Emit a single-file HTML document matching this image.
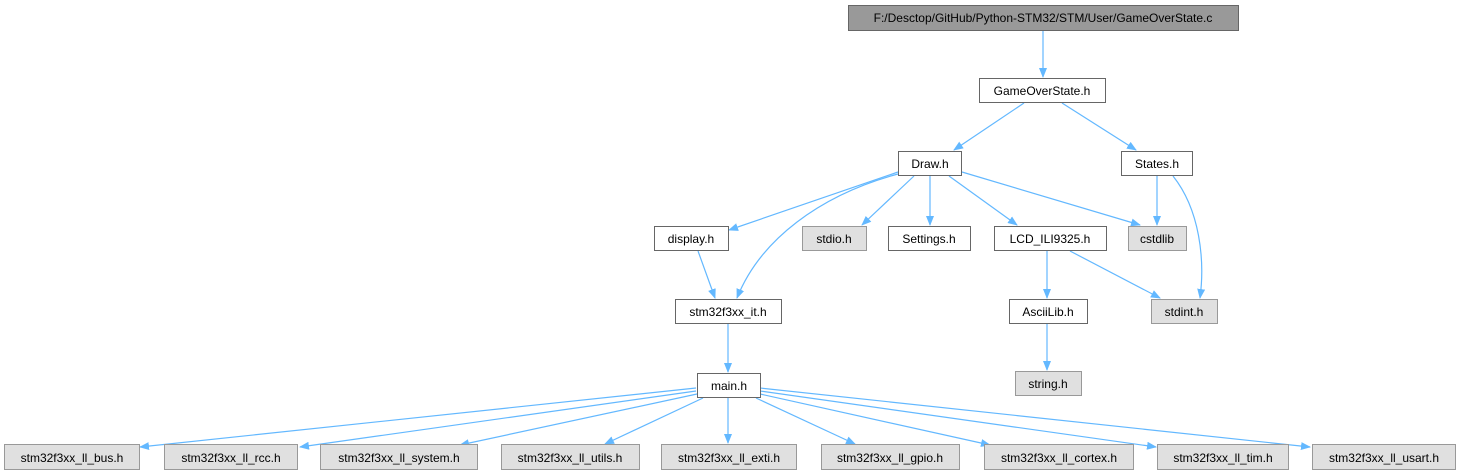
<!DOCTYPE html>
<html><head><meta charset="utf-8"><style>
html,body{margin:0;padding:0;background:#fff;}
svg{display:block;}
text{font-family:"Liberation Sans",Arial,sans-serif;font-size:12px;fill:#000;text-anchor:middle;}
.w{fill:#fff;stroke:#666;stroke-width:1;}
.g{fill:#e0e0e0;stroke:#999;stroke-width:1;}
.e{fill:none;stroke:#63b8ff;stroke-width:1.2;}
</style></head><body>
<svg width="1459" height="476" viewBox="0 0 1459 476">
<defs><marker id="a" markerWidth="10" markerHeight="8" refX="9" refY="4" orient="auto" markerUnits="userSpaceOnUse"><path d="M0,0 L10,4 L0,8 z" fill="#63b8ff"/></marker></defs>
<g marker-end="url(#a)">
<path class="e" d="M1043,31 L1043,77"/>
<path class="e" d="M1024,103 L954,150"/>
<path class="e" d="M1062,103 L1136,150"/>
<path class="e" d="M898,172 L729,230"/>
<path class="e" d="M898,174 C820,195 760,240 737,298"/>
<path class="e" d="M914,176 L862,225"/>
<path class="e" d="M930,176 L930,225"/>
<path class="e" d="M949,176 L1017,225"/>
<path class="e" d="M962,172 L1140,225"/>
<path class="e" d="M1157,176 L1157,225"/>
<path class="e" d="M1173,176 C1200,210 1205,260 1200,298"/>
<path class="e" d="M1047,251 L1047,298"/>
<path class="e" d="M1070,251 L1160,298"/>
<path class="e" d="M698,251 L715,298"/>
<path class="e" d="M728,324 L728,372"/>
<path class="e" d="M1047,324 L1047,370"/>
<path class="e" d="M696,388 L140,447"/>
<path class="e" d="M696,391 L300,447"/>
<path class="e" d="M697,394 L460,445"/>
<path class="e" d="M703,398 L605,444"/>
<path class="e" d="M728,398 L728,443"/>
<path class="e" d="M756,398 L855,444"/>
<path class="e" d="M760,394 L990,445"/>
<path class="e" d="M760,391 L1156,447"/>
<path class="e" d="M760,388 L1310,447"/>
</g>
<rect x="848.5" y="5.5" width="390" height="25" fill="#999" stroke="#666"/><text x="1043" y="22">F:/Desctop/GitHub/Python-STM32/STM/User/GameOverState.c</text>
<rect class="w" x="979.5" y="78.5" width="126" height="24"/><text x="1042" y="95">GameOverState.h</text>
<rect class="w" x="898.5" y="151.5" width="63" height="24"/><text x="930" y="168">Draw.h</text>
<rect class="w" x="1121.5" y="151.5" width="71" height="24"/><text x="1157" y="168">States.h</text>
<rect class="w" x="654.5" y="226.5" width="74" height="24"/><text x="691" y="243">display.h</text>
<rect class="g" x="802.5" y="226.5" width="64" height="24"/><text x="834" y="243">stdio.h</text>
<rect class="w" x="888.5" y="226.5" width="82" height="24"/><text x="929" y="243">Settings.h</text>
<rect class="w" x="994.5" y="226.5" width="112" height="24"/><text x="1050" y="243">LCD_ILI9325.h</text>
<rect class="g" x="1128.5" y="226.5" width="58" height="24"/><text x="1157" y="243">cstdlib</text>
<rect class="w" x="675.5" y="299.5" width="106" height="24"/><text x="728" y="316">stm32f3xx_it.h</text>
<rect class="w" x="1009.5" y="299.5" width="78" height="24"/><text x="1048" y="316">AsciiLib.h</text>
<rect class="g" x="1151.5" y="299.5" width="66" height="24"/><text x="1184" y="316">stdint.h</text>
<rect class="g" x="1015.5" y="371.5" width="66" height="24"/><text x="1048" y="388">string.h</text>
<rect class="w" x="697.5" y="373.5" width="63" height="24"/><text x="729" y="390">main.h</text>
<rect class="g" x="4.5" y="444.5" width="135" height="25"/><text x="72" y="462">stm32f3xx_ll_bus.h</text>
<rect class="g" x="164.5" y="444.5" width="133" height="25"/><text x="231" y="462">stm32f3xx_ll_rcc.h</text>
<rect class="g" x="320.5" y="444.5" width="157" height="25"/><text x="399" y="462">stm32f3xx_ll_system.h</text>
<rect class="g" x="501.5" y="444.5" width="138" height="25"/><text x="570" y="462">stm32f3xx_ll_utils.h</text>
<rect class="g" x="661.5" y="444.5" width="135" height="25"/><text x="729" y="462">stm32f3xx_ll_exti.h</text>
<rect class="g" x="821.5" y="444.5" width="138" height="25"/><text x="890" y="462">stm32f3xx_ll_gpio.h</text>
<rect class="g" x="984.5" y="444.5" width="149" height="25"/><text x="1059" y="462">stm32f3xx_ll_cortex.h</text>
<rect class="g" x="1157.5" y="444.5" width="131" height="25"/><text x="1223" y="462">stm32f3xx_ll_tim.h</text>
<rect class="g" x="1312.5" y="444.5" width="143" height="25"/><text x="1384" y="462">stm32f3xx_ll_usart.h</text>
</svg>
</body></html>
